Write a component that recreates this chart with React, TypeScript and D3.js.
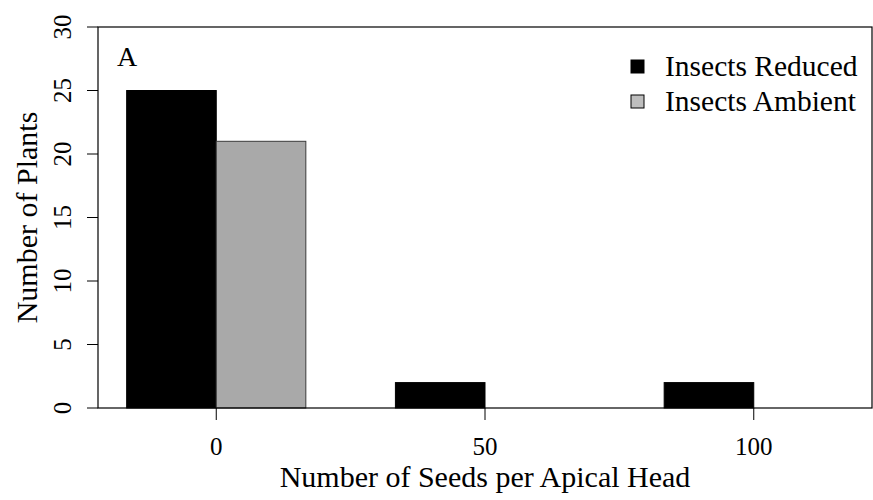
import React from "react";
import * as d3 from "d3";

const categories = ["0", "50", "100"];
const seriesNames = ["Insects Reduced", "Insects Ambient"];
const reduced = [25, 2, 2];
const ambient = [21, 0, 0];
const yTicks = [0, 5, 10, 15, 20, 25, 30];

const W = 873;
const H = 500;
const left = 98;
const right = 872;
const top = 27;
const bottom = 408;
const font = "'Liberation Serif', 'Times New Roman', serif";

export default function App() {
  // barplot layout: each bar is 1 unit, space of 1 unit before each group
  const groupStart = categories.map((_, i) => 1 + 3 * i);
  const x = d3.scaleLinear().domain([0.68, 9.32]).range([left, right]);
  const y = d3.scaleLinear().domain([0, 30]).range([bottom, top]);
  const fills = ["#000000", "#a9a9a9"];
  const strokes = ["#000000", "#3a3a3a"];
  const series = [reduced, ambient];

  return (
    <svg width={W} height={H} style={{ position: "absolute", left: 0, top: 0, background: "#fff" }}>
      <rect x={0} y={0} width={W} height={H} fill="#fff" />
      {series.map((vals, s) =>
        vals.map((v, i) => {
          const x0 = x(groupStart[i] + s);
          const x1 = x(groupStart[i] + s + 1);
          return (
            <rect
              key={`${s}-${i}`}
              x={x0}
              y={y(v)}
              width={x1 - x0}
              height={y(0) - y(v)}
              fill={fills[s]}
              stroke={strokes[s]}
              strokeWidth={1}
            />
          );
        })
      )}
      {/* box */}
      <rect x={left} y={top} width={right - left} height={bottom - top} fill="none" stroke="#000" strokeWidth={1.2} />
      {/* y axis */}
      {yTicks.map((t) => (
        <g key={t}>
          <line x1={left - 11} x2={left} y1={y(t)} y2={y(t)} stroke="#000" strokeWidth={1} />
          <text
            transform={`translate(71,${y(t)}) rotate(-90)`}
            textAnchor="middle"
            fontFamily={font}
            fontSize={25}
            fill="#000"
          >
            {t}
          </text>
        </g>
      ))}
      {/* x axis ticks */}
      {categories.map((c, i) => {
        const xc = x(groupStart[i] + 1);
        return (
          <g key={c}>
            <line x1={xc} x2={xc} y1={bottom} y2={bottom + 12} stroke="#000" strokeWidth={1} />
            <text x={xc} y={455} textAnchor="middle" fontFamily={font} fontSize={25} fill="#000">
              {c}
            </text>
          </g>
        );
      })}
      {/* axis titles */}
      <text x={(left + right) / 2} y={487} textAnchor="middle" fontFamily={font} fontSize={30} fill="#000">
        Number of Seeds per Apical Head
      </text>
      <text
        transform={`translate(37,${(top + bottom) / 2}) rotate(-90)`}
        textAnchor="middle"
        fontFamily={font}
        fontSize={30}
        fill="#000"
      >
        Number of Plants
      </text>
      <text x={117} y={66} fontFamily={font} fontSize={28} fill="#000">
        A
      </text>
      {/* legend */}
      {seriesNames.map((n, i) => {
        const cy = 66 + i * 35;
        return (
          <g key={n}>
            <rect x={631} y={cy - 6} width={13} height={13} fill={i === 0 ? "#000" : "#bebebe"} stroke="#000" strokeWidth={1} />
            <text x={665} y={cy + 10} fontFamily={font} fontSize={29.5} fill="#000">
              {n}
            </text>
          </g>
        );
      })}
    </svg>
  );
}
